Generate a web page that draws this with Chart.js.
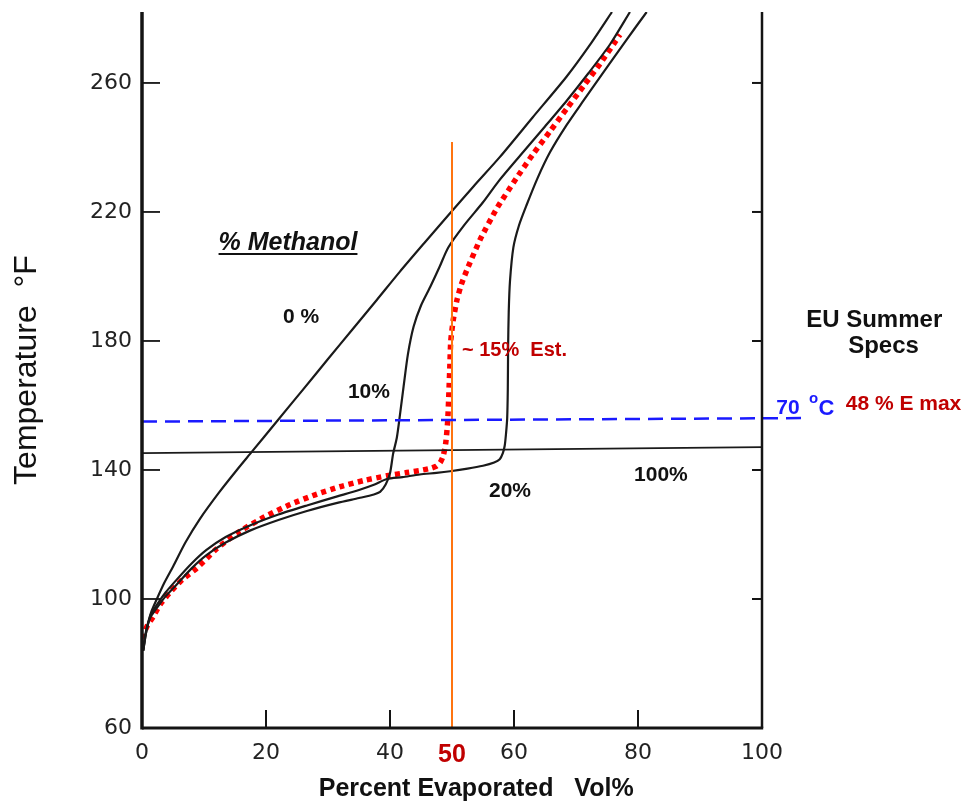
<!DOCTYPE html>
<html>
<head>
<meta charset="utf-8">
<script src="https://cdn.jsdelivr.net/npm/chart.js@4.4.1/dist/chart.umd.min.js"></script>
<style>
    html, body { margin: 0; padding: 0; background: #fff; }
    canvas { display: block; }
</style>
</head>
<body>
<canvas id="distChart" width="968" height="802"></canvas>
<script>
// Axis ticks
const xTicks = [0, 20, 40, 50, 60, 80, 100];
const yTicks = [60, 100, 140, 180, 220, 260];

// Distillation curves, percent evaporated (x) vs temperature F (y)
const meoh0X = [0.2, 0.5, 0.9, 1.5, 2.4, 3.6, 5.0, 7.0, 9.4, 12.5, 15.3, 17.7, 21.8, 26.0, 30.0, 33.9, 37.9, 41.6, 45.5, 49.4, 53.5, 57.7, 63.0, 68.5, 72.5, 75.8];
const meoh0Y = [84, 88.5, 92, 96, 100, 105, 110, 117.5, 125, 133.2, 140, 145.6, 155.2, 165, 174.4, 183.5, 192.8, 201.5, 210.3, 219, 228, 237, 249.3, 262, 272.5, 282];

const meoh10X = [0.2, 0.6, 1.0, 1.5, 2.5, 3.8, 5.6, 8.0, 10.4, 13.5, 17.4, 22.0, 26.6, 31.5, 35.0, 37.4, 38.4, 39.3, 40.0, 40.5, 41.1, 41.6, 42.2, 42.9, 43.8, 45.0, 46.5, 48.0, 49.4, 52.0, 55.0, 57.5, 61.0, 65.0, 68.5, 72.0, 75.5, 78.7];
const meoh10Y = [84, 89, 92.5, 94.8, 97.5, 100.8, 104.5, 109.5, 113.6, 117.5, 121.2, 124.5, 127.3, 129.8, 131.3, 132.4, 133.2, 135.5, 139, 145, 150, 157, 166, 176, 184.4, 191, 196.8, 203, 209, 216, 223, 229.5, 237.5, 246.5, 254.5, 263, 272, 282];

const meoh20X = [0.2, 0.6, 1.0, 1.5, 2.5, 3.8, 5.6, 8.0, 10.4, 13.5, 17.4, 22.0, 26.6, 31.5, 35.0, 37.4, 39.5, 42.0, 44.8, 47.5, 49.7, 52.5, 55.0, 56.8, 57.7, 58.2, 58.5, 58.7, 58.9, 59.0, 59.05, 59.15, 59.35, 59.9, 60.8, 62.0, 63.8, 65.8, 68.5, 71.2, 74.5, 78.0, 81.4];
const meoh20Y = [84, 89, 92.5, 95.5, 98.5, 102, 106, 111, 115.2, 119.2, 122.8, 126.2, 129, 131.8, 133.8, 135.4, 137.2, 137.8, 138.6, 139.1, 139.6, 140.4, 141.3, 142.3, 143.3, 145.2, 147.5, 151, 156, 165, 178, 189, 198.5, 209, 215.8, 222, 230.5, 238.5, 247, 254.5, 263.5, 273, 282];

const meoh100X = [0, 100];
const meoh100Y = [145.2, 147.1];

// Estimated 15% blend (red dotted)
const est15X = [0, 0.8, 1.8, 3.0, 4.5, 6.5, 8.8, 12.0, 15.8, 19.8, 23.9, 27.9, 31.9, 35.7, 39.5, 42.7, 45.0, 46.5, 47.5, 48.1, 48.6, 49.0, 49.3, 49.5, 49.65, 49.8, 50.2, 50.8, 51.5, 52.4, 54.5, 57.2, 60.4, 63.1, 65.8, 68.5, 71.2, 73.9, 77.1];
const est15Y = [87.8, 91.5, 94.5, 98.5, 102, 106, 109.5, 115.5, 121, 125.5, 129.3, 132.3, 134.8, 136.7, 138.2, 139.2, 139.9, 140.5, 141.2, 142.3, 144.5, 148.5, 155, 164, 172, 180, 186.5, 192.7, 197.5, 202, 211.3, 221, 230.5, 238, 245, 252, 259, 266, 275];

// EU summer spec: 70 C line and E50 marker
const specX = [0, 107.4];
const specY = [155, 156.1];
const e50X = [50, 50];
const e50Y = [60, 241.7];

const pts = (xs, ys) => xs.map((x, i) => ({ x: x, y: ys[i] }));

// Text labels placed in data units
const notes = [
    { text: "% Methanol", x: 23.55, y: 208.2, align: "center", font: "italic bold 25px 'Liberation Sans'", color: "#111", underline: true },
    { text: "0 %", x: 25.65, y: 185.6, align: "center", font: "bold 21px 'Liberation Sans'", color: "#111" },
    { text: "10%", x: 36.6, y: 162.3, align: "center", font: "bold 21px 'Liberation Sans'", color: "#111" },
    { text: "20%", x: 59.35, y: 131.6, align: "center", font: "bold 21px 'Liberation Sans'", color: "#111" },
    { text: "100%", x: 83.7, y: 136.6, align: "center", font: "bold 21px 'Liberation Sans'", color: "#111" },
    { text: "~ 15%  Est.", x: 51.6, y: 175.35, align: "left", font: "bold 20px 'Liberation Sans'", color: "#c00000" },
    { text: "EU Summer", x: 118.1, y: 184.3, align: "center", font: "bold 24px 'Liberation Sans'", color: "#111" },
    { text: "Specs", x: 119.6, y: 176.2, align: "center", font: "bold 24px 'Liberation Sans'", color: "#111" },
    { text: "70", x: 102.3, y: 157.4, align: "left", font: "bold 21px 'Liberation Sans'", color: "#1a1aff" },
    { text: "o", x: 107.6, y: 160.9, align: "left", font: "bold 15px 'Liberation Sans'", color: "#1a1aff" },
    { text: "C", x: 109.1, y: 157.05, align: "left", font: "bold 22px 'Liberation Sans'", color: "#1a1aff" },
    { text: "48 % E max", x: 113.5, y: 158.6, align: "left", font: "bold 21px 'Liberation Sans'", color: "#c00000" },
    { text: "Percent Evaporated   Vol%", x: 53.9, y: 38.8, align: "center", font: "bold 25px 'Liberation Sans'", color: "#111" }
];

const frameAndLabels = {
    id: "frameAndLabels",
    afterDatasetsDraw(chart) {
        const { ctx, chartArea: a } = chart;
        const sx = chart.scales.x, sy = chart.scales.y;
        const seg = (x1, y1, x2, y2, w) => {
            ctx.lineWidth = w;
            ctx.beginPath();
            ctx.moveTo(x1, y1);
            ctx.lineTo(x2, y2);
            ctx.stroke();
        };
        ctx.save();
        ctx.strokeStyle = "#141414";
        ctx.lineCap = "butt";
        seg(a.left, a.top, a.left, a.bottom + 1.5, 3.5);
        seg(a.left, a.bottom, a.right + 1.2, a.bottom, 3);
        seg(a.right, a.top, a.right, a.bottom, 2.5);
        yTicks.forEach(v => {
            if (v === 60) return;
            const py = sy.getPixelForValue(v);
            seg(a.left, py, a.left + 18, py, 1.8);
            seg(a.right - 10, py, a.right, py, 2);
        });
        xTicks.forEach(v => {
            if (v === 0 || v === 50 || v === 100) return;
            const px = sx.getPixelForValue(v);
            seg(px, a.bottom, px, a.bottom - 18, 2);
        });
        ctx.textBaseline = "alphabetic";
        notes.forEach(n => {
            ctx.font = n.font;
            ctx.fillStyle = n.color;
            ctx.textAlign = n.align;
            const px = sx.getPixelForValue(n.x), py = sy.getPixelForValue(n.y);
            ctx.fillText(n.text, px, py);
            if (n.underline) {
                const w = ctx.measureText(n.text).width;
                const x0 = n.align === "center" ? px - w / 2 : px;
                ctx.strokeStyle = n.color;
                seg(x0, py + 4, x0 + w, py + 4, 2);
            }
        });
        ctx.restore();
    }
};

const curve = (label, xs, ys, color, width, extra) => Object.assign({
    label: label,
    data: pts(xs, ys),
    showLine: true,
    borderColor: color,
    borderWidth: width,
    pointRadius: 0,
    fill: false,
    tension: 0.25
}, extra || {});

new Chart(document.getElementById("distChart"), {
    type: "scatter",
    data: {
        datasets: [
            curve("70 C", specX, specY, "#1a1aff", 2.5, { borderDash: [15, 8], clip: false, tension: 0 }),
            curve("E50", e50X, e50Y, "#ff7410", 2, { tension: 0 }),
            curve("100%", meoh100X, meoh100Y, "#1a1a1a", 1.8, { tension: 0 }),
            curve("0%", meoh0X, meoh0Y, "#1a1a1a", 2.2),
            curve("10%", meoh10X, meoh10Y, "#1a1a1a", 2.2),
            curve("20%", meoh20X, meoh20Y, "#1a1a1a", 2.2),
            curve("~15% Est.", est15X, est15Y, "#ff0000", 5.5, { borderDash: [5, 4.5], tension: 0.2 })
        ]
    },
    options: {
        responsive: false,
        animation: false,
        layout: { padding: { top: 12, right: 206, left: 0, bottom: 0 } },
        plugins: {
            legend: { display: false },
            tooltip: { enabled: false }
        },
        scales: {
            x: {
                type: "linear",
                min: 0,
                max: 100,
                afterBuildTicks: s => { s.ticks = xTicks.map(v => ({ value: v })); },
                afterFit: s => { s.height = 74; s.paddingLeft = 0; s.paddingRight = 0; },
                grid: { display: false, drawTicks: false },
                border: { display: false },
                ticks: {
                    padding: 12,
                    color: c => (c.tick && c.tick.value === 50 ? "#c00000" : "#222"),
                    font: c => (c.tick && c.tick.value === 50
                        ? { family: "'Liberation Sans'", size: 25, weight: "bold" }
                        : { family: "'DejaVu Sans'", size: 22 })
                }
            },
            y: {
                type: "linear",
                min: 60,
                max: 282,
                afterBuildTicks: s => { s.ticks = yTicks.map(v => ({ value: v })); },
                afterFit: s => { s.width = 142; s.paddingTop = 0; s.paddingBottom = 0; },
                grid: { display: false, drawTicks: false },
                border: { display: false },
                ticks: {
                    padding: 10,
                    color: "#222",
                    font: { family: "'DejaVu Sans'", size: 22 }
                },
                title: {
                    display: true,
                    text: "Temperature  °F",
                    color: "#111",
                    font: { family: "'Liberation Sans'", size: 32 },
                    padding: { top: 8, bottom: 0 }
                }
            }
        }
    },
    plugins: [frameAndLabels]
});
</script>
</body>
</html>
